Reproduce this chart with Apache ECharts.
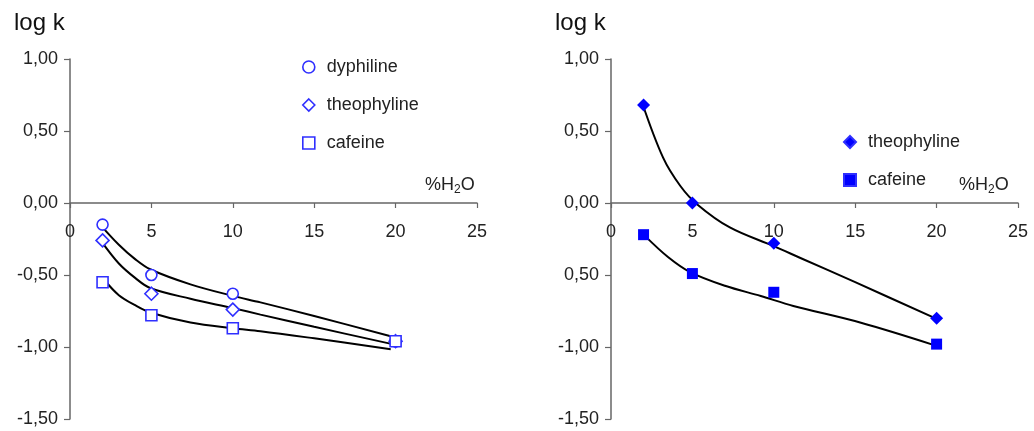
<!DOCTYPE html>
<html>
<head>
<meta charset="utf-8">
<script src="https://cdn.jsdelivr.net/npm/echarts@6/dist/echarts.min.js"></script>
<style>
  html, body { margin: 0; padding: 0; background: #fff; }
  #chart { width: 1034px; height: 431px; }
</style>
</head>
<body>
<div id="chart"></div>
<script>
// measured points (% water -> log k)
const waterPct = [2, 5, 10, 20];
const dyphilineLeft = [-0.15, -0.50, -0.63, -0.96];
const theophylineLeft = [-0.26, -0.63, -0.74, -0.96];
const cafeineLeft = [-0.55, -0.78, -0.87, -0.96];
const theophylineRight = [0.68, 0.00, -0.28, -0.80];
const cafeineRight = [-0.22, -0.49, -0.62, -0.98];

// fitted curves
const dyphFitX = [1.85, 3, 4, 4.92, 7.4, 10, 11.7, 15, 19.7];
const dyphFitY = [-0.15, -0.29, -0.39, -0.46, -0.565, -0.645, -0.69, -0.785, -0.925];
const theoFitX = [1.95, 3, 4, 4.92, 7.4, 10, 11.7, 15, 19.8];
const theoFitY = [-0.27, -0.42, -0.52, -0.59, -0.665, -0.73, -0.775, -0.86, -0.98];
const cafFitX = [2.15, 3, 4, 4.92, 7.4, 10, 11.7, 15, 19.7];
const cafFitY = [-0.54, -0.64, -0.71, -0.76, -0.83, -0.87, -0.89, -0.94, -1.015];
const theoRFitX = [1.9, 3.2, 4.25, 5.3, 7.3, 10, 11.6, 15, 19.9];
const theoRFitY = [0.70, 0.315, 0.12, -0.01, -0.17, -0.30, -0.38, -0.55, -0.80];
const cafRFitX = [2.1, 3.5, 4.86, 7, 9.2, 11.2, 15.3, 19.8];
const cafRFitY = [-0.23, -0.375, -0.48, -0.575, -0.646, -0.715, -0.83, -0.985];

// tick labels
const yTickValues = [-1.5, -1, -0.5, 0, 0.5, 1];
const leftYLabels = ['-1,50', '-1,00', '-0,50', '0,00', '0,50', '1,00'];
const rightYLabels = ['-1,50', '-1,00', '0,50', '0,00', '0,50', '1,00'];
const xTickLabels = ['0', '5', '10', '15', '20', '25'];

const FONT = "'Liberation Sans', Arial, sans-serif";
const hollowBlue = '#2f2fff';
const solidBlue = '#0000ff';
const GRID_H = 360;
// x axis sits at log k = 0 -> 1.5 of the 2.5 range below it
const X_AXIS_OFFSET = -GRID_H * 1.5 / 2.5;

function pairs(xs, ys) {
  return xs.map((x, i) => [x, ys[i]]);
}

function xAxisFor(gridIndex) {
  return {
    gridIndex: gridIndex,
    type: 'value',
    position: 'bottom',
    offset: X_AXIS_OFFSET,
    min: 0, max: 25, interval: 5,
    axisLine: { onZero: false, lineStyle: { color: '#666', width: 1.5 } },
    axisTick: { show: true, length: 5, lineStyle: { color: '#666', width: 1.2 } },
    axisLabel: {
      color: '#222', fontSize: 18, fontFamily: FONT, margin: 20,
      formatter: v => xTickLabels[Math.round(v / 5)]
    },
    splitLine: { show: false }
  };
}

function yAxisFor(gridIndex, labels) {
  return {
    gridIndex: gridIndex,
    type: 'value',
    min: -1.5, max: 1, interval: 0.5,
    axisLine: { show: true, onZero: false, lineStyle: { color: '#666', width: 1.5 } },
    axisTick: { show: true, length: 6, lineStyle: { color: '#666', width: 1.2 } },
    axisLabel: {
      color: '#222', fontSize: 18, fontFamily: FONT, margin: 12,
      formatter: v => labels[yTickValues.indexOf(Math.round(v * 2) / 2)]
    },
    splitLine: { show: false }
  };
}

function fitLine(name, xi, xs, ys) {
  return {
    name: name + ' fit',
    type: 'line',
    xAxisIndex: xi, yAxisIndex: xi,
    data: pairs(xs, ys),
    smooth: 0.35,
    showSymbol: false,
    lineStyle: { color: '#000', width: 2 },
    z: 2,
    silent: true
  };
}

function points(name, xi, ys, symbol, style, size) {
  return {
    name: name,
    type: 'scatter',
    xAxisIndex: xi, yAxisIndex: xi,
    data: pairs(waterPct, ys),
    symbol: symbol,
    symbolSize: size,
    itemStyle: style,
    z: 3
  };
}

const hollow = { color: '#fff', borderColor: hollowBlue, borderWidth: 1.6, opacity: 1 };
const solid = { color: solidBlue, opacity: 1 };

const chart = echarts.init(document.getElementById('chart'));
chart.setOption({
  animation: false,
  textStyle: { fontFamily: FONT },
  title: [
    { text: 'log k', left: 9, top: 6, textStyle: { fontSize: 24, fontWeight: 'normal', color: '#111', fontFamily: FONT } },
    { text: 'log k', left: 550, top: 6, textStyle: { fontSize: 24, fontWeight: 'normal', color: '#111', fontFamily: FONT } },
    {
      text: '%H{sub|2}O', left: 420, top: 170,
      textStyle: { fontSize: 18, fontWeight: 'normal', color: '#222', fontFamily: FONT,
        rich: { sub: { fontSize: 12, padding: [9, 0, 0, 0], color: '#222', fontFamily: FONT } } }
    },
    {
      text: '%H{sub|2}O', left: 954, top: 170,
      textStyle: { fontSize: 18, fontWeight: 'normal', color: '#222', fontFamily: FONT,
        rich: { sub: { fontSize: 12, padding: [9, 0, 0, 0], color: '#222', fontFamily: FONT } } }
    }
  ],
  legend: [
    {
      orient: 'vertical', left: 297, top: 53, itemGap: 20,
      itemWidth: 12, itemHeight: 12,
      textStyle: { fontSize: 18, color: '#222', fontFamily: FONT, padding: [0, 0, 0, 7] },
      data: [
        { name: 'dyphiline', icon: 'circle', itemStyle: hollow },
        { name: 'theophyline', icon: 'diamond', itemStyle: hollow },
        { name: 'cafeine', icon: 'rect', itemStyle: hollow }
      ]
    },
    {
      orient: 'vertical', left: 838, top: 128, itemGap: 20,
      itemWidth: 12, itemHeight: 12,
      textStyle: { fontSize: 18, color: '#222', fontFamily: FONT, padding: [0, 0, 0, 7] },
      data: [
        { name: 'theophyline', icon: 'diamond', itemStyle: solid },
        { name: 'cafeine', icon: 'rect', itemStyle: solid }
      ]
    }
  ],
  grid: [
    { left: 70, top: 59, width: 407, height: GRID_H, outerBoundsMode: 'none' },
    { left: 611, top: 59, width: 407, height: GRID_H, outerBoundsMode: 'none' }
  ],
  xAxis: [xAxisFor(0), xAxisFor(1)],
  yAxis: [yAxisFor(0, leftYLabels), yAxisFor(1, rightYLabels)],
  series: [
    fitLine('dyphiline', 0, dyphFitX, dyphFitY),
    fitLine('theophyline', 0, theoFitX, theoFitY),
    fitLine('cafeine', 0, cafFitX, cafFitY),
    points('dyphiline', 0, dyphilineLeft, 'circle', hollow, 11),
    points('theophyline', 0, theophylineLeft, 'diamond', hollow, 13),
    points('cafeine', 0, cafeineLeft, 'rect', hollow, 11),
    fitLine('theophyline R', 1, theoRFitX, theoRFitY),
    fitLine('cafeine R', 1, cafRFitX, cafRFitY),
    points('theophyline', 1, theophylineRight, 'diamond', solid, 13),
    points('cafeine', 1, cafeineRight, 'rect', solid, 11)
  ]
});
</script>
</body>
</html>
